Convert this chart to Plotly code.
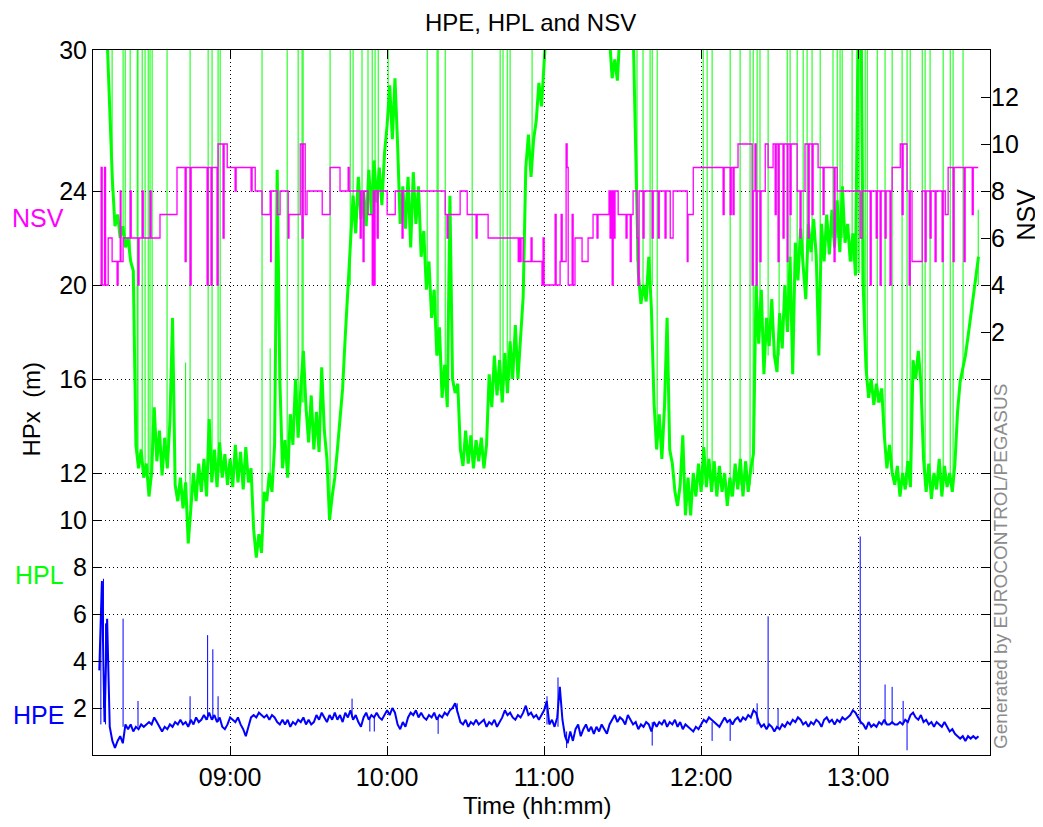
import plotly.graph_objects as go

# ---------------- data (time in minutes after 08:00) ----------------
sample_start = 10          # first sample 08:10, one sample per minute
hpl = [
    36, 34, 33, 30.5, 27.0, 24.5, 22.5, 23.0, 22.0, 22.5,
    21.6, 22.0, 21.0, 20.6, 13.2, 12.2, 13.0, 11.8, 12.4, 11.0,
    12.0, 14.8, 12.5, 13.8, 11.9, 13.5, 12.2, 14.2, 18.6, 11.5,
    10.8, 11.8, 10.5, 11.6, 9.0, 10.6, 12.0, 10.8, 12.4, 11.2,
    12.6, 11.0, 14.3, 11.6, 13.0, 11.4, 13.3, 11.8, 12.8, 11.5,
    12.6, 11.4, 13.2, 11.6, 12.9, 11.3, 13.1, 11.6, 12.2, 9.6,
    8.4, 9.4, 8.6, 11.2, 10.8, 12.0, 11.2, 13.2, 24.9, 16.0,
    12.2, 13.4, 11.8, 14.5, 13.2, 16.0, 13.5, 15.6, 17.2, 14.8,
    13.3, 15.3, 13.0, 14.6, 12.9, 16.5, 13.8, 12.6, 10.0, 11.0,
    11.8, 13.0, 14.5, 15.6, 17.8, 20.0, 21.8, 23.8, 22.2, 24.6,
    22.8, 24.0, 22.5, 24.9, 23.0, 25.3, 23.5, 25.0, 23.4, 25.6,
    26.8, 28.5, 26.2, 28.8, 26.0, 22.6, 24.2, 22.4, 24.6, 21.6,
    24.8, 22.6, 24.2, 21.2, 22.3, 19.8, 21.0, 18.6, 19.8, 17.0,
    18.2, 15.2, 16.6, 14.8, 23.8, 16.0, 15.4, 15.8, 13.0, 12.3,
    13.8, 12.4, 13.6, 12.2, 13.4, 12.5, 13.5, 12.2, 13.2, 16.2,
    14.8, 17.0, 15.3, 16.8, 15.0, 17.1, 15.4, 17.6, 16.0, 18.3,
    16.0, 18.0, 19.5, 25.0, 26.4, 24.6, 26.2, 27.0, 28.6, 27.6,
    29.4, 31, 33, 35, 34, 36, 35, 37, 36, 34,
    35, 36, 34, 33, 35, 34, 36, 35, 33, 34,
    32, 33, 31.5, 32, 31, 30.5, 28.8, 29.6, 28.7, 31,
    33, 35, 34, 33, 31, 26.0, 20.5, 19.2, 20.0, 19.3,
    21.2, 19.0, 15.0, 13.0, 14.5, 12.6, 14.8, 18.6, 13.0, 12.4,
    11.2, 10.6, 11.5, 13.6, 10.2, 11.8, 10.2, 12.0, 11.0, 12.4,
    11.2, 13.1, 11.4, 12.6, 11.2, 12.5, 11.0, 12.3, 11.2, 12.0,
    10.6, 11.8, 11.0, 12.4, 11.3, 12.6, 11.0, 12.5, 11.2, 12.2,
    12.8, 20.0, 17.5, 19.8, 16.2, 18.6, 17.4, 19.4, 17.0, 16.3,
    18.8, 17.3, 20.0, 18.0, 21.2, 16.2, 21.8, 20.2, 22.4, 20.8,
    19.4, 22.6, 21.4, 22.8, 21.2, 17.0, 22.6, 21.0, 23.0, 21.3,
    23.2, 21.6, 23.6, 21.4, 24.2, 21.8, 22.6, 21.0, 22.2, 20.4,
    31, 33, 19.8, 16.5, 15.2, 16.0, 14.9, 15.8, 15.0, 15.6,
    13.6, 12.2, 13.2, 12.0, 11.5, 12.3, 11.0, 12.0, 11.3, 12.5,
    11.4, 16.8, 16.0, 17.2, 15.8, 12.6, 11.2, 12.4, 10.9, 12.0,
    11.3, 12.6, 11.0, 12.3, 11.4, 12.0, 11.2, 12.4, 14.6, 15.9,
    16.4, 17.0, 17.8, 18.6, 19.4, 20.2, 21.2,
]
hpe = [
    3.6, 7.4, 1.4, 5.8, 1.2, 0.6, 0.3, 0.6, 0.8, 0.5,
    1.3, 1.1, 1.3, 1.0, 1.2, 1.1, 1.3, 1.2, 1.3, 1.4,
    1.3, 1.6, 1.4, 1.2, 1.0, 1.2, 1.1, 1.3, 1.2, 1.4,
    1.3, 1.5, 1.3, 1.4, 1.2, 1.5, 1.3, 1.6, 1.4, 1.5,
    1.7, 1.5, 1.8, 1.5, 1.7, 1.4, 1.6, 1.2, 1.1, 1.3,
    1.6, 1.5, 1.4, 1.6, 1.3, 1.1, 0.8, 1.2, 1.6, 1.7,
    1.6, 1.8, 1.7, 1.6, 1.7, 1.5, 1.7, 1.6, 1.4, 1.3,
    1.5, 1.3, 1.5, 1.2, 1.4, 1.3, 1.5, 1.4, 1.6, 1.3,
    1.5, 1.3, 1.4, 1.7, 1.5, 1.8, 1.6, 1.4, 1.7, 1.5,
    1.8, 1.5, 1.7, 1.4, 1.8, 1.6, 1.9, 1.5, 1.7, 1.4,
    1.2, 1.6, 1.8, 1.5, 1.7, 1.6, 1.8, 1.6, 1.5, 1.7,
    1.9, 1.7, 2.0, 1.8, 1.3, 1.1, 1.4, 1.2, 1.6, 1.8,
    1.7, 1.9, 1.6, 1.8, 1.6, 1.5, 1.7, 1.6, 1.8, 1.5,
    1.7, 1.6, 1.8, 1.7, 1.9, 2.0, 2.2, 1.8, 1.4, 1.3,
    1.5, 1.2, 1.4, 1.3, 1.5, 1.3, 1.4, 1.5, 1.2, 1.4,
    1.3, 1.5, 1.2, 1.4, 1.6, 1.9, 1.7, 1.8, 1.6, 1.5,
    1.7, 1.6, 1.8, 2.1, 1.7, 1.8, 1.6, 1.7, 1.5, 1.7,
    1.9, 2.3, 1.3, 1.5, 1.2, 1.6, 2.9, 1.5, 0.8, 0.5,
    1.0, 0.6, 1.1, 1.3, 0.8, 1.1, 1.3, 1.0, 1.2, 0.9,
    1.2, 1.0, 1.3, 1.1, 0.9, 1.3, 1.5, 1.7, 1.4, 1.6,
    1.5, 1.3, 1.7, 1.5, 1.3, 1.4, 1.1, 1.3, 1.2, 1.4,
    1.3, 1.0, 1.4, 1.2, 1.4, 1.3, 1.5, 1.2, 1.4, 1.3,
    1.5, 1.2, 1.4, 1.1, 1.3, 1.2, 1.1, 1.0, 1.2, 1.1,
    1.3, 1.5, 1.4, 1.6, 1.5, 1.4, 1.3, 1.2, 1.4, 1.6,
    1.4, 1.5, 1.3, 1.5, 1.6, 1.4, 1.6, 1.5, 1.7, 1.6,
    1.9, 1.8, 1.4, 1.2, 1.3, 1.1, 1.3, 1.2, 1.0, 1.2,
    1.1, 1.3, 1.2, 1.4, 1.3, 1.5, 1.4, 1.6, 1.5, 1.3,
    1.4, 1.2, 1.4, 1.3, 1.5, 1.4, 1.2, 1.5, 1.6, 1.4,
    1.5, 1.3, 1.5, 1.4, 1.6, 1.5, 1.6, 1.7, 1.9, 1.8,
    1.6, 1.4, 1.3, 1.1, 1.4, 1.2, 1.3, 1.2, 1.4, 1.3,
    1.5, 1.3, 1.3, 1.4, 1.3, 1.3, 1.4, 1.3, 1.5, 1.4,
    1.7, 1.8, 1.6, 1.5, 1.7, 1.4, 1.5, 1.3, 1.4, 1.2,
    1.4, 1.3, 1.2, 1.4, 1.2, 1.0, 1.1, 0.9, 0.8, 0.7,
    0.8, 0.6, 0.8, 0.7, 0.8, 0.7, 0.8,
]

# HPL short-lived jumps (time, from, to)
hpl_spike_t = [13.4, 14.9, 19.1, 19.9, 21.8, 24.5, 24.8, 26.4, 27.5, 28.7,
               29.4, 30.2, 35.9, 43.0, 44.7, 51.6, 53.1, 55.4, 56.2, 72.2,
               75.3, 81.8, 86.0, 87.5, 87.9, 98.2, 105.9, 107.0, 110.4, 112.7,
               114.3, 115.4, 116.6, 120.4, 135.3, 139.1, 139.5, 142.2, 152.5, 163.2,
               164.3, 165.9, 167.0, 175.4, 215.5, 217.8, 220.5, 221.3, 223.2, 240.8,
               242.3, 244.2, 251.1, 254.9, 258.7, 259.9, 261.4, 262.5, 265.6, 269.8,
               272.9, 274.0, 276.7, 279.0, 280.5, 282.4, 285.5, 290.4, 292.0, 293.1,
               293.9, 297.7, 300.0, 300.4, 301.5, 302.7, 303.5, 307.3, 310.3, 313.0,
               316.8, 318.7, 319.9, 324.5, 325.6, 327.5, 332.5, 335.2, 336.3, 340.1,
               345.9]
hpl_spike_lo = [30, 24, 22.5, 22, 21.5, 13, 12.5, 13, 12, 12,
                11.5, 12, 12.5, 10.6, 10.5, 12, 12, 12, 12, 9,
                11.5, 12, 14, 15, 15, 10, 20, 23, 23, 23,
                23, 24, 24, 27, 20, 17, 17, 16, 12.5, 15.5,
                15.5, 16, 16, 25, 21, 20, 20, 20, 13, 11.5,
                11.5, 11.5, 11, 11.5, 11.5, 12, 18, 18, 17, 17,
                19, 20, 21, 21, 21, 21, 21, 22, 22, 22,
                22, 21, 20.5, 20.5, 20, 18, 16, 15, 13, 12,
                11.5, 11.5, 11.5, 15, 12, 11.5, 11.5, 11.5, 11.5, 16,
                20]
hpl_spike_hi = [40, 40, 40, 40, 40, 40, 40, 40, 40, 40,
                40, 40, 40, 16.7, 40, 40, 40, 40, 40, 40,
                17.3, 40, 40, 40, 40, 40, 40, 40, 40, 40,
                40, 40, 40, 40, 40, 40, 40, 40, 40, 40,
                40, 40, 40, 40, 40, 40, 40, 40, 40, 40,
                40, 40, 40, 40, 40, 40, 40, 40, 40, 26,
                40, 40, 40, 40, 40, 40, 40, 40, 40, 40,
                40, 40, 40, 40, 40, 40, 40, 40, 40, 40,
                40, 40, 40, 40, 40, 40, 40, 40, 40, 40,
                23.2]

# HPE short-lived jumps (time, from, to)
hpe_spike_t = [10.6, 11.6, 12.4, 19.1, 24.8, 44.7, 51.4, 53.4, 55.4, 106.6,
               113.4, 115.1, 139.5, 146.8, 181.1, 185.3, 188.6, 221.3, 244.2, 251.1,
               261.4, 265.6, 269.4, 300.8, 310.3, 313.0, 317.2, 318.7]
hpe_spike_lo = [1.3, 2.0, 1.3, 1.2, 1.2, 1.3, 1.5, 1.5, 1.4, 1.6,
                1.0, 1.0, 0.9, 1.8, 1.3, 1.2, 0.3, 0.4, 0.6, 0.6,
                1.3, 1.2, 1.1, 1.3, 1.3, 1.3, 1.3, 0.2]
hpe_spike_hi = [6.0, 7.5, 5.6, 5.8, 2.3, 2.5, 5.1, 4.5, 2.5, 2.4,
                1.6, 1.6, 1.6, 2.2, 2.5, 3.3, 1.0, 1.4, 1.4, 1.5,
                2.2, 5.9, 2.0, 9.3, 3.0, 2.9, 2.3, 1.4]

# NSV (number of satellites) step changes
nsv_t = [10.3, 10.7, 11.1, 12.0, 12.4, 13.4, 14.9, 16.8, 17.2, 18.0,
         18.3, 19.1, 21.8, 22.2, 24.8, 25.2, 26.4, 26.8, 29.4, 29.8,
         33.2, 39.7, 42.8, 43.2, 44.7, 45.1, 51.2, 51.6, 52.7, 53.1,
         55.0, 55.4, 57.3, 57.7, 58.9, 61.9, 62.3, 68.0, 68.4, 69.6,
         72.2, 75.3, 75.5, 75.7, 78.0, 79.1, 82.2, 82.5, 86.8, 87.5,
         87.9, 88.7, 89.4, 95.2, 98.2, 102.0, 105.1, 105.5, 109.7, 110.1,
         110.8, 111.2, 112.7, 114.3, 114.7, 115.0, 115.4, 116.2, 116.6, 120.0,
         123.1, 125.7, 126.1, 142.2, 142.9, 143.3, 147.9, 150.6, 154.0, 154.4,
         158.6, 170.1, 170.4, 170.8, 171.2, 172.0, 175.0, 175.4, 179.2, 179.6,
         180.0, 184.2, 184.6, 186.1, 186.5, 186.9, 188.4, 188.8, 189.2, 190.7,
         191.1, 191.8, 194.5, 196.8, 198.7, 200.2, 200.6, 204.8, 205.2, 205.6,
         206.0, 206.4, 206.8, 207.1, 208.3, 211.3, 211.7, 212.9, 213.3, 214.0,
         215.5, 215.9, 216.3, 217.8, 218.2, 221.3, 221.7, 223.6, 224.0, 226.2,
         226.6, 228.2, 229.3, 234.7, 235.0, 237.0, 248.4, 248.8, 251.1, 251.5,
         252.2, 252.6, 254.1, 259.5, 259.9, 260.6, 261.0, 261.4, 262.5, 262.9,
         264.5, 265.6, 267.5, 268.3, 268.7, 269.4, 269.8, 271.3, 271.7, 272.9,
         273.2, 274.0, 274.4, 276.7, 277.8, 278.2, 279.7, 280.9, 281.3, 282.4,
         282.8, 284.7, 286.6, 287.0, 290.8, 291.2, 292.0, 300.8, 301.5, 304.6,
         305.0, 306.9, 307.3, 308.4, 308.8, 310.3, 310.7, 312.2, 312.6, 313.0,
         316.1, 316.8, 317.2, 318.7, 319.5, 319.9, 320.6, 324.5, 325.6, 326.0,
         327.5, 327.9, 329.4, 329.8, 332.1, 332.5, 333.3, 334.4, 336.3, 336.7,
         340.5, 340.9, 343.6, 344.0, 345.9]
nsv_v = [4, 9, 4, 9, 4, 6, 5, 4, 5, 8,
         5, 6, 8, 6, 4, 6, 8, 6, 8, 6,
         7, 9, 5, 9, 4, 9, 4, 9, 4, 9,
         4, 10, 6, 10, 9, 8, 9, 8, 9, 8,
         7, 8, 5, 8, 7, 8, 6, 7, 10, 6,
         10, 7, 8, 7, 9, 8, 9, 8, 6, 8,
         5, 8, 7, 4, 8, 4, 8, 6, 8, 7,
         8, 6, 8, 7, 6, 7, 8, 7, 6, 7,
         6, 5, 6, 5, 6, 5, 6, 5, 4, 6,
         4, 7, 4, 5, 7, 5, 10, 9, 4, 7,
         4, 6, 5, 6, 7, 6, 7, 8, 6, 8,
         4, 8, 6, 8, 7, 6, 7, 5, 7, 8,
         6, 4, 8, 6, 8, 6, 8, 6, 8, 6,
         8, 6, 8, 5, 7, 9, 7, 9, 7, 9,
         7, 9, 10, 4, 8, 10, 4, 8, 5, 8,
         10, 9, 10, 7, 10, 5, 10, 6, 10, 5,
         10, 7, 10, 8, 6, 8, 10, 6, 10, 7,
         10, 9, 7, 9, 5, 9, 8, 6, 8, 4,
         8, 6, 8, 4, 8, 6, 8, 4, 8, 9,
         10, 7, 10, 8, 4, 8, 5, 8, 5, 8,
         6, 8, 5, 8, 5, 8, 7, 9, 5, 9,
         5, 9, 7, 9, 9]

x_tick_vals = [60, 120, 180, 240, 300]
x_tick_text = ["09:00", "10:00", "11:00", "12:00", "13:00"]
hpx_ticks = [2, 4, 6, 8, 10, 12, 16, 20, 24, 30]
nsv_ticks = [2, 4, 6, 8, 10, 12]

# ---------------- figure ----------------
t_samples = [sample_start + i for i in range(len(hpl))]


def segments(ts, lo, hi):
    xs, ys = [], []
    for t, a, b in zip(ts, lo, hi):
        xs += [t, t, None]
        ys += [a, b, None]
    return xs, ys


FONT = "Liberation Sans, Arial, sans-serif"
GREEN, MAGENTA, BLUE = "#00ff00", "#ff00ff", "#0000ff"

fig = go.Figure()
sx, sy = segments(hpl_spike_t, hpl_spike_lo, hpl_spike_hi)
fig.add_trace(go.Scatter(x=sx, y=sy, mode="lines", line=dict(color=GREEN, width=1),
                         hoverinfo="skip", showlegend=False))
fig.add_trace(go.Scatter(x=t_samples, y=hpl, mode="lines", line=dict(color=GREEN, width=3),
                         name="HPL", showlegend=False))
ex, ey = segments(hpe_spike_t, hpe_spike_lo, hpe_spike_hi)
fig.add_trace(go.Scatter(x=ex, y=ey, mode="lines", line=dict(color=BLUE, width=1),
                         hoverinfo="skip", showlegend=False))
fig.add_trace(go.Scatter(x=t_samples, y=hpe, mode="lines", line=dict(color=BLUE, width=2),
                         name="HPE", showlegend=False))
fig.add_trace(go.Scatter(x=nsv_t, y=nsv_v, mode="lines", line=dict(color=MAGENTA, width=1.3, shape="hv"),
                         name="NSV", yaxis="y2", showlegend=False))

axis_common = dict(
    ticks="inside", ticklen=9, tickcolor="black", tickwidth=1,
    tickfont=dict(family=FONT, size=25, color="black"),
    zeroline=False, automargin=False,
)

# the page body adds an 8 px offset, so the figure is 8 px smaller than the window
fig.update_layout(
    width=1035, height=819, autosize=False,
    margin=dict(l=85, r=53, t=42, b=72, autoexpand=False),
    paper_bgcolor="white", plot_bgcolor="white",
    font=dict(family=FONT, color="black"),
    xaxis=dict(range=[7.6, 350.4], tickmode="array", tickvals=x_tick_vals, ticktext=x_tick_text,
               showline=True, linecolor="black", linewidth=1,
               mirror="ticks", showgrid=True, gridcolor="black", gridwidth=1, griddash="1px,3px",
               **axis_common),
    yaxis=dict(range=[0, 30], tickmode="array", tickvals=hpx_ticks,
               showline=True, linecolor="black", linewidth=1,
               mirror="ticks", showgrid=True, gridcolor="black", gridwidth=1, griddash="1px,3px",
               **axis_common),
    yaxis2=dict(range=[-16, 14], tickmode="array", tickvals=nsv_ticks, overlaying="y", side="right",
                showgrid=False, showline=False, **axis_common),
    showlegend=False,
)

ann = [
    dict(text="HPE, HPL and NSV", xref="paper", yref="paper", x=0.488, y=1.0, yshift=28,
         showarrow=False, font=dict(size=24, color="black"), xanchor="center", yanchor="middle"),
    dict(text="Time (hh:mm)", xref="paper", yref="paper", x=0.495, y=0, yshift=-50,
         showarrow=False, font=dict(size=24, color="black"), xanchor="center", yanchor="middle"),
    dict(text="HPx  (m)", xref="paper", yref="y", x=0, xshift=-61, y=14.7, textangle=-90,
         showarrow=False, font=dict(size=24, color="black"), xanchor="center", yanchor="middle"),
    dict(text="NSV", xref="paper", yref="y", x=0, xshift=-27, y=22.85,
         showarrow=False, font=dict(size=25, color=MAGENTA), xanchor="right", yanchor="middle"),
    dict(text="HPL", xref="paper", yref="y", x=0, xshift=-27, y=7.66,
         showarrow=False, font=dict(size=25, color=GREEN), xanchor="right", yanchor="middle"),
    dict(text="HPE", xref="paper", yref="y", x=0, xshift=-27, y=1.7,
         showarrow=False, font=dict(size=25, color=BLUE), xanchor="right", yanchor="middle"),
    dict(text="NSV", xref="paper", yref="y", x=1, xshift=35, y=23.0, textangle=-90,
         showarrow=False, font=dict(size=25, color="black"), xanchor="center", yanchor="middle"),
    dict(text="Generated by EUROCONTROL/PEGASUS", xref="paper", yref="y", x=1, xshift=10, y=8.0,
         textangle=-90, showarrow=False, font=dict(size=19, color="#8c8c8c"),
         xanchor="center", yanchor="middle"),
]
fig.update_layout(annotations=ann)

fig.write_html("out.html")
